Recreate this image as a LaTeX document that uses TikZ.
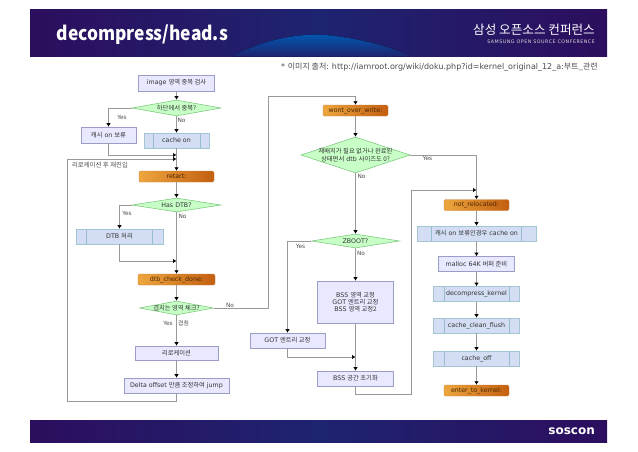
\documentclass[tikz,border=0pt]{standalone}
\usepackage{fontspec}
\setmainfont{DejaVu Sans}
\newfontfamily\krfont{Noto Sans CJK KR}
\newfontfamily\titlefont[FakeStretch=0.9]{Noto Sans CJK KR}
\newcommand{\ko}[1]{{\krfont #1}}
\usetikzlibrary{arrows.meta,shapes.geometric}
\definecolor{bannerdark}{HTML}{2C0E5E}
\definecolor{bannerblue}{HTML}{1E2470}
\definecolor{linegray}{HTML}{999999}
\definecolor{orangelight}{HTML}{EDA63E}
\definecolor{orangedark}{HTML}{C25F10}
\tikzset{
  boxsize/.style 2 args={minimum width=#1pt,minimum height=#2pt},
  nodetext/.style={font=\fontsize{6.3}{7.3}\selectfont,text=black!80,inner sep=0pt,align=center},
  taskbox/.style={nodetext,draw=blue!30!gray!60,line width=0.6pt,fill=blue!9},
  procbox/.style={nodetext,draw=cyan!40!gray!60,line width=0.6pt,fill=cyan!50!blue!17,
    path picture={\draw[cyan!40!gray!70,line width=0.5pt]
      ([xshift=#1pt]path picture bounding box.north west) -- ([xshift=#1pt]path picture bounding box.south west)
      ([xshift=-#1pt]path picture bounding box.north east) -- ([xshift=-#1pt]path picture bounding box.south east);}},
  labelbox/.style={nodetext,rounded corners=1.5pt,draw=orangedark!80,line width=0.4pt,
    left color=orangelight,right color=orangedark,text=orange!30!black},
  decision/.style={diamond,inner sep=0pt,draw=green!40!gray!70,line width=0.6pt,fill=green!22,
    label={[nodetext]center:#1}},
  flow/.style={draw=linegray,line width=1pt,-{Latex[black,length=3.5pt,width=4.5pt]}},
  flowlabel/.style={font=\fontsize{5.8}{6.5}\selectfont,text=black!70,inner sep=0pt}
}
\begin{document}
\begin{tikzpicture}[x=1pt,y=-1pt]
  \useasboundingbox (0,0) rectangle (638,451);
  \node[minimum width=577pt,minimum height=47pt,inner sep=0pt,left color=bannerdark,right color=bannerdark,middle color=bannerblue] (topbanner) at (318.5,32.5) {};
  \node[minimum width=577pt,minimum height=22pt,inner sep=0pt,left color=bannerdark,right color=bannerdark,middle color=bannerblue] (bottombanner) at (318.5,431) {};
  \fill[top color=blue!50!cyan!70!black,bottom color=bannerblue] (232,56) .. controls (262,41) and (295,33) .. (325,35) .. controls (360,38) and (395,48) .. (410,56) -- cycle;
  \node[anchor=base west,inner sep=0pt,text=white,font=\titlefont\bfseries\fontsize{19.3}{22}\selectfont] (title) at (56.5,40.5) {decompress/head.s};
  \node[anchor=base east,inner sep=0pt,text=white,font=\krfont\fontsize{12.6}{15}\selectfont] (confko) at (595,34) {삼성 오픈소스 컨퍼런스};
  \node[anchor=base east,inner sep=0pt,text=white!85!black,font=\fontsize{4.8}{5}\selectfont\addfontfeature{LetterSpace=10}] (confen) at (595,43) {SAMSUNG OPEN SOURCE CONFERENCE};
  \node[anchor=base east,inner sep=0pt,text=white,font=\bfseries\fontsize{12}{13}\selectfont] (soscon) at (595,434) {soscon};
  \node[anchor=base east,inner sep=0pt,text=black!70,font=\fontsize{8}{9}\selectfont] (source) at (598,69) {* \ko{이미지 출처:} http://iamroot.org/wiki/doku.php?id=kernel\_original\_12\_a:\ko{부트\_관련}};

  \node[taskbox,boxsize={76}{16}] (imagecheck) at (176.5,83) {image \ko{영역 중복 검사}};
  \node[decision={\ko{하단에서 중복?}},boxsize={89}{16}] (dupcheck) at (176.5,108) {};
  \node[taskbox,boxsize={55}{16}] (cachehold) at (108.5,135) {\ko{캐시} on \ko{보류}};
  \node[procbox=9,boxsize={65}{15}] (cacheon) at (176.5,140.5) {cache on};
  \node[labelbox,boxsize={75}{11}] (retart) at (176.5,176.5) {retart:};
  \node[decision={Has DTB?},boxsize={89}{14}] (hasdtb) at (176.5,205) {};
  \node[procbox=10.5,boxsize={87}{15}] (dtbproc) at (119.5,236.5) {DTB \ko{처리}};
  \node[labelbox,boxsize={77}{11}] (dtbdone) at (176.5,279.5) {dtb\_check\_done:};
  \node[decision={\ko{겹치는 영역 체크?}},boxsize={74}{14}] (overlap) at (176.5,308) {};
  \node[taskbox,boxsize={83}{14}] (relocate) at (176.5,353) {\ko{리로케이션}};
  \node[taskbox,boxsize={105}{15}] (deltajump) at (176.5,385.5) {Delta offset \ko{만큼 조정하여} jump};

  \node[labelbox,boxsize={65}{11}] (wontover) at (355.5,110.5) {wont\_over\_write:};
  \node[decision={\ko{재배치가 필요 없거나 완료된}\\\ko{상태면서} dtb \ko{사이즈도 0?}},boxsize={109}{36}] (donecheck) at (355.5,155) {};
  \node[decision={ZBOOT?},boxsize={88}{14}] (zboot) at (355.5,241) {};
  \node[taskbox,boxsize={76}{42}] (bssfix) at (355.5,302) {BSS \ko{영역 교정}\\GOT \ko{엔트리 교정}\\BSS \ko{영역 교정2}};
  \node[taskbox,boxsize={75}{15}] (gotfix) at (287.5,340.5) {GOT \ko{엔트리 교정}};
  \node[taskbox,boxsize={76}{15}] (bssinit) at (355.5,378.5) {BSS \ko{공간 초기화}};

  \node[labelbox,boxsize={65}{11}] (notreloc) at (476.5,205) {not\_relocated:};
  \node[procbox=14.5,boxsize={119}{15}] (holdcache) at (476.5,233.5) {\ko{캐시} on \ko{보류인경우} cache on};
  \node[taskbox,boxsize={76}{15}] (mallocbuf) at (476.5,264) {malloc 64K \ko{버퍼 준비}};
  \node[procbox=10.5,boxsize={86}{15}] (decompress) at (476.5,294) {decompress\_kernel};
  \node[procbox=10.5,boxsize={86}{15}] (cleanflush) at (476.5,325.5) {cache\_clean\_flush};
  \node[procbox=10.5,boxsize={86}{15}] (cacheoff) at (476.5,358.5) {cache\_off};
  \node[labelbox,boxsize={65}{11}] (enterkernel) at (476.5,390.5) {enter\_to\_kernel:};

  \coordinate (mergea) at (176.5,155);
  \coordinate (mergeb) at (176.5,159);
  \coordinate (mergec) at (176.5,261);
  \coordinate (merged) at (355.5,357);
  \coordinate (mergee) at (476.5,190);
  \coordinate (loopa) at (67,401);
  \coordinate (loopb) at (411,394);
  \coordinate (jumpa) at (268,96);

  \draw[flow] (imagecheck) -- (dupcheck);
  \draw[flow] (dupcheck.west) -| (cachehold.north);
  \draw[flow] (dupcheck) -- (cacheon);
  \draw[flow] (cacheon) -- (retart);
  \draw[flow] (cachehold.south) |- (mergea);
  \draw[flow] (retart) -- (hasdtb);
  \draw[flow] (hasdtb.west) -| (dtbproc.north);
  \draw[flow] (hasdtb) -- (dtbdone);
  \draw[flow] (dtbproc.south) |- (mergec);
  \draw[flow] (dtbdone) -- (overlap);
  \draw[flow] (overlap) -- (relocate);
  \draw[flow] (relocate) -- (deltajump);
  \draw[flow] (deltajump.south) |- (loopa) |- (mergeb);
  \draw[flow] (overlap.east) -| (jumpa) -| (wontover.north);

  \draw[flow] (wontover) -- (donecheck);
  \draw[flow] (donecheck) -- (zboot);
  \draw[flow] (donecheck.east) -| (notreloc.north);
  \draw[flow] (zboot) -- (bssfix);
  \draw[flow] (zboot.west) -| (gotfix.north);
  \draw[flow] (bssfix) -- (bssinit);
  \draw[flow] (gotfix.south) |- (merged);
  \draw[flow] (bssinit.south) |- (loopb) |- (mergee);

  \draw[flow] (notreloc) -- (holdcache);
  \draw[flow] (holdcache) -- (mallocbuf);
  \draw[flow] (mallocbuf) -- (decompress);
  \draw[flow] (decompress) -- (cleanflush);
  \draw[flow] (cleanflush) -- (cacheoff);
  \draw[flow] (cacheoff) -- (enterkernel);

  \node[flowlabel] (yesa) at (122,117.5) {Yes};
  \node[flowlabel] (noa) at (181.5,120) {No};
  \node[flowlabel,font=\fontsize{6.4}{7}\selectfont] (reentry) at (100,165) {\ko{리로케이션 후 재진입}};
  \node[flowlabel] (yesb) at (127,213) {Yes};
  \node[flowlabel] (nob) at (182.5,216.5) {No};
  \node[flowlabel] (noc) at (230,305.5) {No};
  \node[flowlabel] (yesc) at (168,323) {Yes};
  \node[flowlabel] (overlapped) at (183.5,323) {\ko{겹침}};
  \node[flowlabel] (yesd) at (427.5,158) {Yes};
  \node[flowlabel] (nod) at (361.5,176.5) {No};
  \node[flowlabel] (yese) at (300.5,246) {Yes};
  \node[flowlabel] (noe) at (361,253) {No};
\end{tikzpicture}
\end{document}
